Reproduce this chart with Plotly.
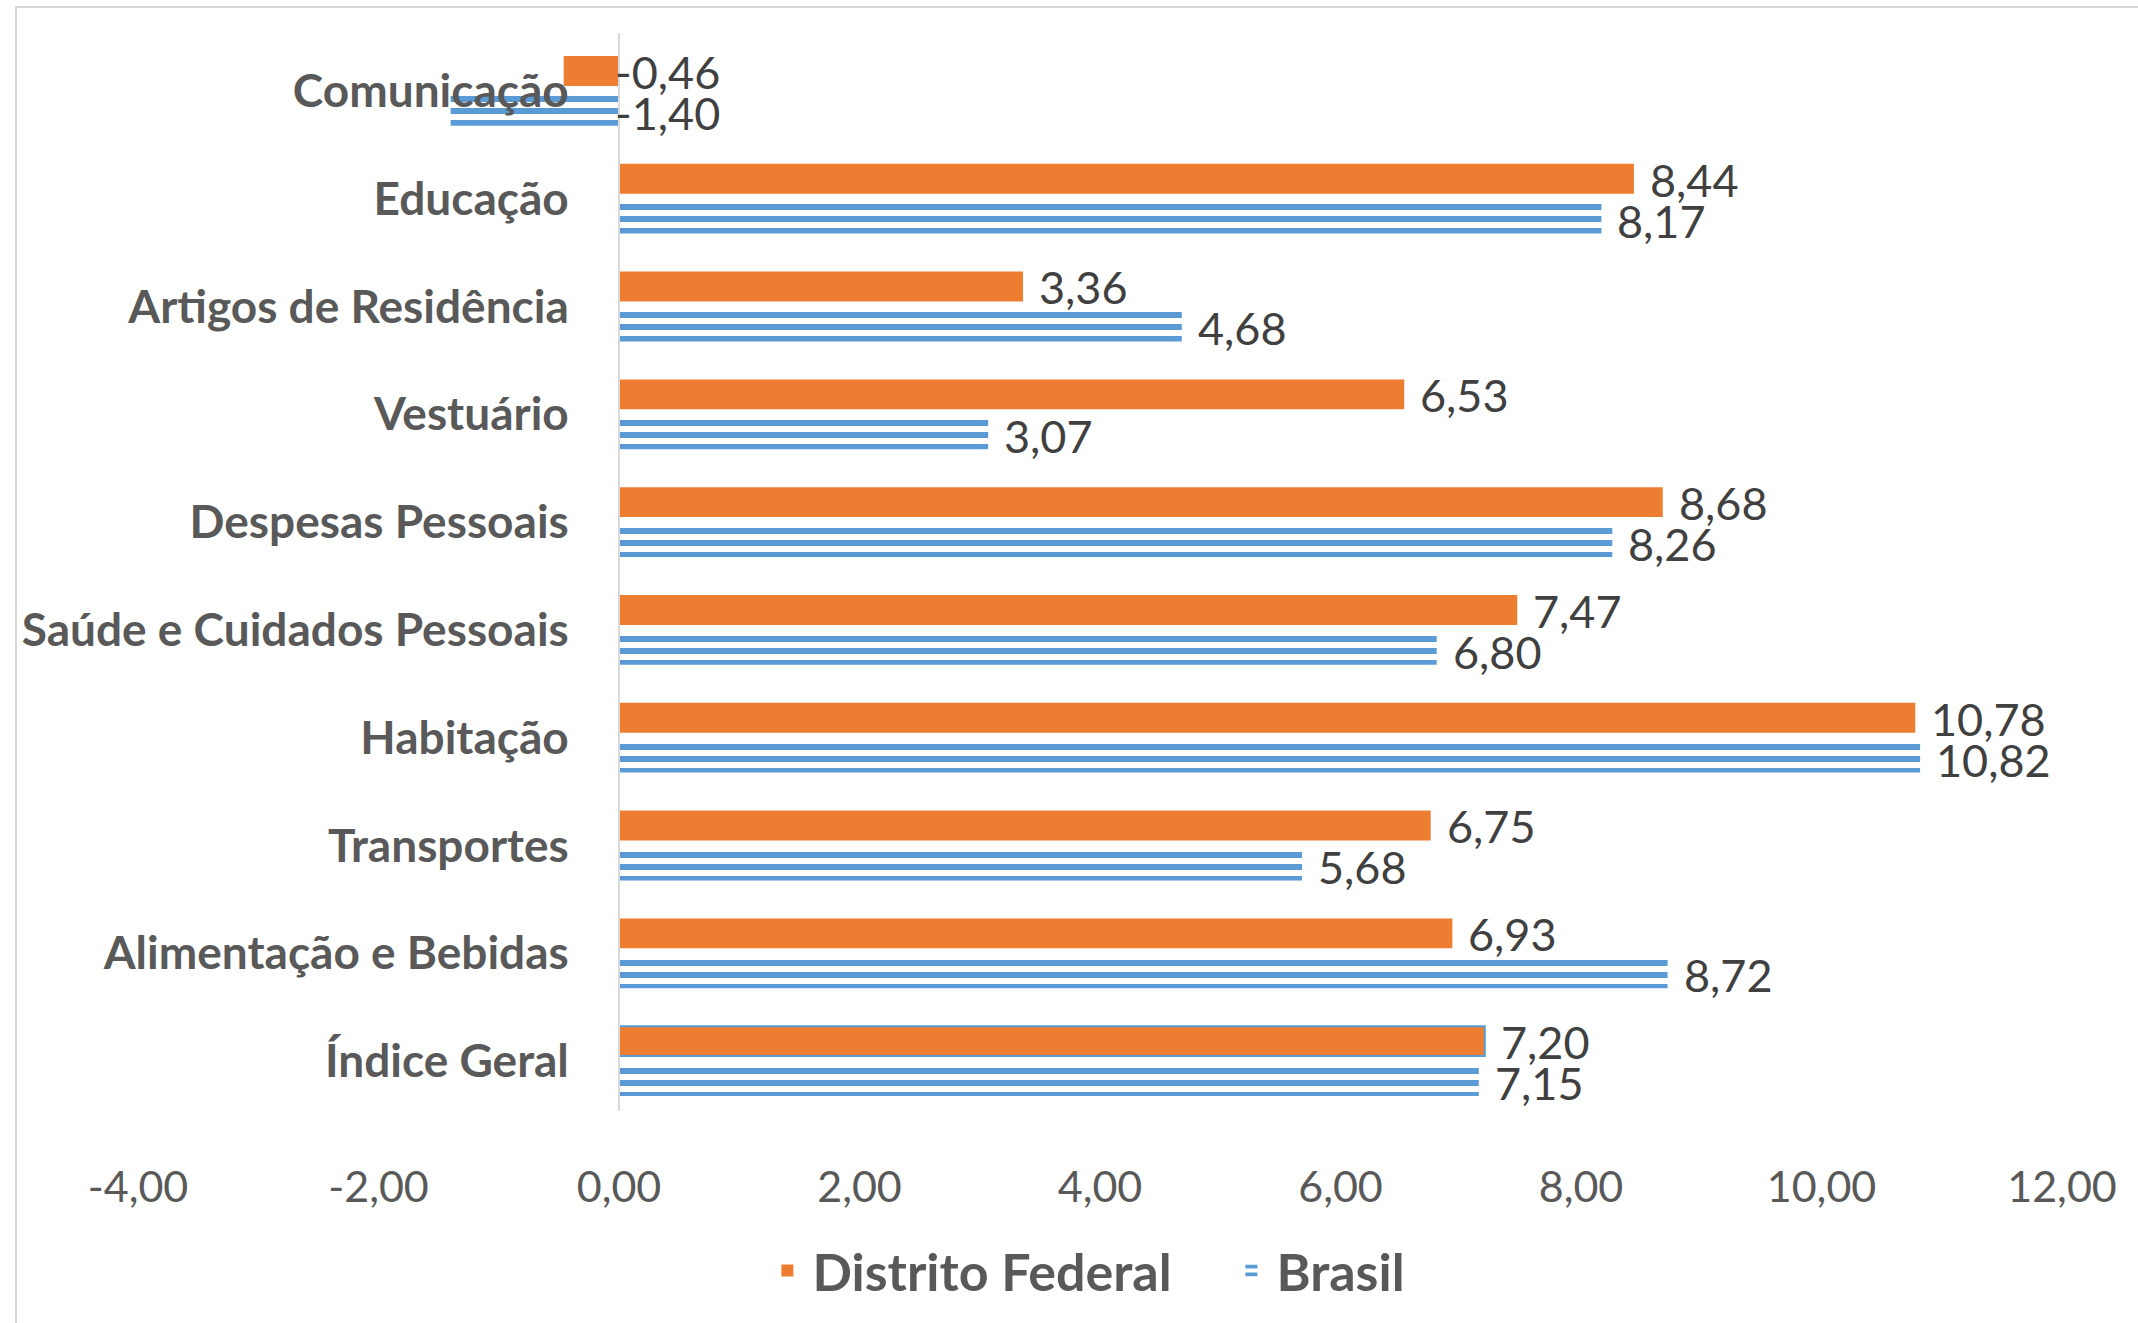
import plotly.graph_objects as go

categories = ["Comunicação", "Educação", "Artigos de Residência", "Vestuário",
              "Despesas Pessoais", "Saúde e Cuidados Pessoais", "Habitação",
              "Transportes", "Alimentação e Bebidas", "Índice Geral"]
df_values = [-0.46, 8.44, 3.36, 6.53, 8.68, 7.47, 10.78, 6.75, 6.93, 7.20]
br_values = [-1.40, 8.17, 4.68, 3.07, 8.26, 6.80, 10.82, 5.68, 8.72, 7.15]
x_ticks = [-4, -2, 0, 2, 4, 6, 8, 10, 12]
series_names = ["Distrito Federal", "Brasil"]

ORANGE = "#ED7D31"
BLUE = "#5B9BD5"
FONT = "Lato"

def fmt(v):
    return f"{v:.2f}".replace(".", ",")

n = len(categories)
fig = go.Figure()
fig.add_trace(go.Bar(
    y=categories, x=df_values, orientation="h", name=series_names[0],
    marker=dict(color=ORANGE,
                line=dict(color=[ORANGE] * (n - 1) + [BLUE], width=[0] * (n - 1) + [2])),
    hoverinfo="x+y",
))
fig.add_trace(go.Bar(
    y=categories, x=br_values, orientation="h", name=series_names[1],
    marker=dict(color="white", line=dict(width=0),
                pattern=dict(shape="-", fgcolor=BLUE, bgcolor="white", fgopacity=1,
                             size=12, solidity=0.5, fillmode="overlay")),
    hoverinfo="x+y",
))

annotations = []
for vals, ysh in ((df_values, 19), (br_values, -22)):
    for c, v in zip(categories, vals):
        annotations.append(dict(
            x=max(v, 0), y=c, xref="x", yref="y", text=fmt(v), showarrow=False,
            xanchor="left", yanchor="middle", xshift=(14 if v >= 0 else -6), yshift=ysh,
            font=dict(family=FONT, size=45, color="#404040"),
        ))

T, B = 33, 210
PH = 1323 - T - B
fig.update_layout(
    width=2138, height=1323,
    margin=dict(l=138, r=76, t=T, b=B),
    paper_bgcolor="white", plot_bgcolor="white",
    barmode="group", bargap=0.26, bargroupgap=0.25,
    font=dict(family=FONT, color="#595959"),
    annotations=annotations,
    legend=dict(orientation="h", x=0.5657, xanchor="center", y=-(1273 - (1323 - B)) / PH, yanchor="middle",
                font=dict(family=FONT, size=52, color="#595959", weight="bold"),
                itemwidth=40, entrywidth=409, entrywidthmode="pixels", traceorder="normal"),
    shapes=[dict(type="rect", xref="paper", yref="paper",
                 x0=-0.0634, x1=1.2, y0=-0.4, y1=((1323 - B) - 7) / PH,
                 line=dict(color="#d9d9d9", width=2), fillcolor="rgba(0,0,0,0)", layer="below")],
    showlegend=True,
)
fig.update_xaxes(range=[-4, 12], tickvals=x_ticks, ticktext=[fmt(t) for t in x_ticks],
                 showgrid=False, zeroline=False, showline=False,
                 ticks="outside", ticklen=38, tickcolor="rgba(0,0,0,0)",
                 tickfont=dict(family=FONT, size=43, color="#595959"))
fig.update_yaxes(type="category", range=[n - 0.5 - 4 / 108, -0.5 - 4 / 108],
                 anchor="free", position=0.25,
                 showgrid=False, showline=True, linecolor="#d9d9d9", linewidth=2,
                 ticks="outside", ticklen=40, tickcolor="rgba(0,0,0,0)",
                 tickfont=dict(family=FONT, size=46, color="#595959", weight="bold"))

fig.write_html("out.html", config={"displayModeBar": False},
               post_script="document.body.style.margin='0px';document.body.style.overflow='hidden';")
